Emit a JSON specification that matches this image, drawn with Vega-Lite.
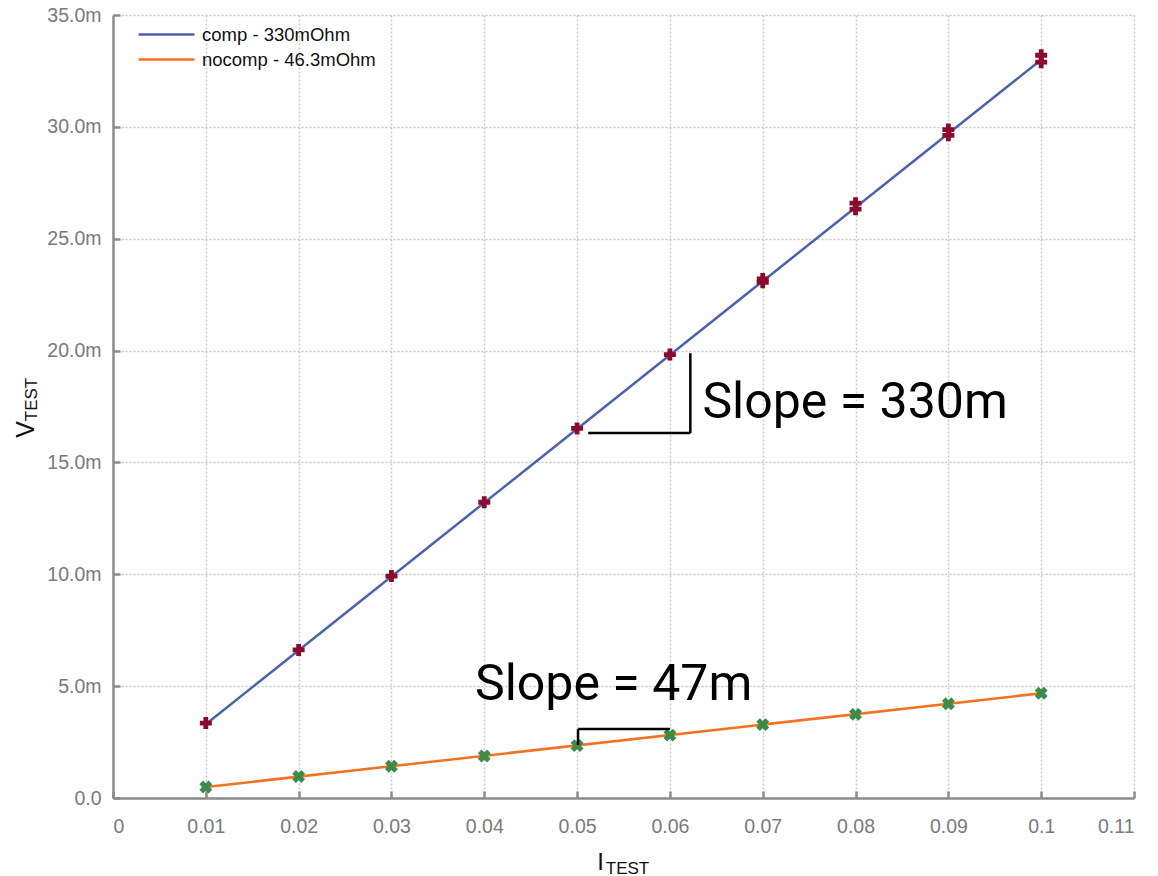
{
  "$schema": "https://vega.github.io/schema/vega-lite/v6.json",
  "width": 1021,
  "height": 783,
  "autosize": {"type": "none"},
  "padding": {"left": 113, "top": 15, "right": 24, "bottom": 78},
  "background": "white",
  "config": {
    "view": {"stroke": null},
    "font": "Liberation Sans",
    "axis": {
      "labelFont": "Liberation Sans",
      "labelFontSize": 19.5,
      "labelColor": "#7a7a7a",
      "domainColor": "#8c8c8c",
      "domainWidth": 2.5,
      "tickColor": "#8c8c8c",
      "tickWidth": 2.5,
      "gridColor": "#c8c8c8",
      "gridDash": [2, 2],
      "gridWidth": 1.5,
      "titleFont": "Liberation Sans",
      "titleFontWeight": "normal",
      "titleColor": "#111111"
    }
  },
  "datasets": {
    "fit": [
      {"I": 0.01, "V": 0.0033, "series": "comp - 330mOhm"},
      {"I": 0.1, "V": 0.0330, "series": "comp - 330mOhm"},
      {"I": 0.01, "V": 0.00049, "series": "nocomp - 46.3mOhm"},
      {"I": 0.1, "V": 0.00468, "series": "nocomp - 46.3mOhm"}
    ],
    "meas": [
      {"I": 0.01, "V": 0.00335, "series": "comp"},
      {"I": 0.02, "V": 0.00662, "series": "comp"},
      {"I": 0.03, "V": 0.00992, "series": "comp"},
      {"I": 0.04, "V": 0.01322, "series": "comp"},
      {"I": 0.05, "V": 0.01652, "series": "comp"},
      {"I": 0.06, "V": 0.01982, "series": "comp"},
      {"I": 0.07, "V": 0.02320, "series": "comp"},
      {"I": 0.07, "V": 0.02305, "series": "comp"},
      {"I": 0.08, "V": 0.02659, "series": "comp"},
      {"I": 0.08, "V": 0.02632, "series": "comp"},
      {"I": 0.09, "V": 0.02988, "series": "comp"},
      {"I": 0.09, "V": 0.02962, "series": "comp"},
      {"I": 0.1, "V": 0.03320, "series": "comp"},
      {"I": 0.1, "V": 0.03289, "series": "comp"},
      {"I": 0.01, "V": 0.00049, "series": "nocomp"},
      {"I": 0.02, "V": 0.00096, "series": "nocomp"},
      {"I": 0.03, "V": 0.00142, "series": "nocomp"},
      {"I": 0.04, "V": 0.00188, "series": "nocomp"},
      {"I": 0.05, "V": 0.00234, "series": "nocomp"},
      {"I": 0.06, "V": 0.00281, "series": "nocomp"},
      {"I": 0.07, "V": 0.00328, "series": "nocomp"},
      {"I": 0.08, "V": 0.00374, "series": "nocomp"},
      {"I": 0.09, "V": 0.00421, "series": "nocomp"},
      {"I": 0.1, "V": 0.00468, "series": "nocomp"}
    ],
    "brackets": [
      {"I": 0.0512, "I2": 0.0622, "V": 0.01631, "V2": 0.01631},
      {"I": 0.0622, "I2": 0.0622, "V": 0.01631, "V2": 0.01988},
      {"I": 0.0501, "I2": 0.0501, "V": 0.00237, "V2": 0.00308},
      {"I": 0.0501, "I2": 0.0600, "V": 0.00308, "V2": 0.00308}
    ],
    "notes": [
      {"I": 0.0635, "V": 0.01698, "label": "Slope = 330m"},
      {"I": 0.0390, "V": 0.00438, "label": "Slope = 47m"}
    ]
  },
  "resolve": {"axis": {"x": "independent", "y": "independent"}},
  "layer": [
    {
      "data": {"name": "fit"},
      "mark": {"type": "line", "strokeWidth": 2.5},
      "encoding": {
        "x": {
          "field": "I", "type": "quantitative",
          "scale": {"domain": [0, 0.11], "nice": false, "zero": true},
          "axis": {
            "orient": "bottom",
            "values": [0, 0.01, 0.02, 0.03, 0.04, 0.05, 0.06, 0.07, 0.08, 0.09, 0.1, 0.11],
            "labelExpr": "format(datum.value, '.2~f')",
            "tickSize": -7,
            "labelPadding": 26,
            "title": "I",
            "titleFontSize": 24,
            "titleX": 487,
            "titleY": 71,
            "titleAlign": "center",
            "titleBaseline": "alphabetic"
          }
        },
        "y": {
          "field": "V", "type": "quantitative",
          "scale": {"domain": [0, 0.035], "nice": false, "zero": true},
          "axis": {
            "orient": "left",
            "values": [0, 0.005, 0.01, 0.015, 0.02, 0.025, 0.03, 0.035],
            "labelExpr": "datum.value == 0 ? '0.0' : format(datum.value * 1000, '.1f') + 'm'",
            "tickSize": -7,
            "labelPadding": 19,
            "title": "V",
            "titleFontSize": 25,
            "titleX": -80,
            "titleY": 414,
            "titleAngle": 270,
            "titleAlign": "center",
            "titleBaseline": "alphabetic"
          }
        },
        "color": {
          "field": "series", "type": "nominal",
          "scale": {"domain": ["comp - 330mOhm", "nocomp - 46.3mOhm"], "range": ["#4b62ad", "#f4711f"]},
          "legend": {
            "title": null,
            "orient": "none",
            "legendX": 24,
            "legendY": 10,
            "symbolType": "stroke",
            "symbolSize": 3136,
            "symbolStrokeWidth": 2.5,
            "clipHeight": 19,
            "labelFont": "Liberation Sans",
            "labelFontSize": 18.5,
            "labelColor": "#111111",
            "labelLimit": 0,
            "labelOffset": 6,
            "rowPadding": 6,
            "padding": 0
          }
        }
      }
    },
    {
      "data": {"name": "meas"},
      "transform": [{"filter": "datum.series == 'comp'"}],
      "mark": {"type": "point", "shape": "cross", "filled": true, "size": 144, "color": "#8a0b2e", "opacity": 1},
      "encoding": {
        "x": {"field": "I", "type": "quantitative", "axis": null},
        "y": {"field": "V", "type": "quantitative", "axis": null}
      }
    },
    {
      "data": {"name": "meas"},
      "transform": [{"filter": "datum.series == 'nocomp'"}],
      "mark": {"type": "point", "shape": "cross", "angle": 45, "filled": true, "size": 170, "color": "#3b8b4b", "opacity": 1},
      "encoding": {
        "x": {"field": "I", "type": "quantitative", "axis": null},
        "y": {"field": "V", "type": "quantitative", "axis": null}
      }
    },
    {
      "data": {"name": "brackets"},
      "mark": {"type": "rule", "color": "#000000", "strokeWidth": 2.5},
      "encoding": {
        "x": {
          "field": "I", "type": "quantitative",
          "axis": {
            "orient": "bottom",
            "grid": false, "ticks": false, "labels": false, "domain": false,
            "title": "TEST",
            "titleFontSize": 17,
            "titleX": 514,
            "titleY": 75,
            "titleAlign": "center",
            "titleBaseline": "alphabetic"
          }
        },
        "x2": {"field": "I2"},
        "y": {
          "field": "V", "type": "quantitative",
          "axis": {
            "orient": "left",
            "grid": false, "ticks": false, "labels": false, "domain": false,
            "title": "TEST",
            "titleFontSize": 17,
            "titleX": -77,
            "titleY": 384,
            "titleAngle": 270,
            "titleAlign": "center",
            "titleBaseline": "alphabetic"
          }
        },
        "y2": {"field": "V2"}
      }
    },
    {
      "data": {"name": "notes"},
      "mark": {"type": "text", "font": "Roboto", "fontSize": 50, "align": "left", "baseline": "alphabetic", "color": "#000000"},
      "encoding": {
        "x": {"field": "I", "type": "quantitative", "axis": null},
        "y": {"field": "V", "type": "quantitative", "axis": null},
        "text": {"field": "label"}
      }
    }
  ]
}
